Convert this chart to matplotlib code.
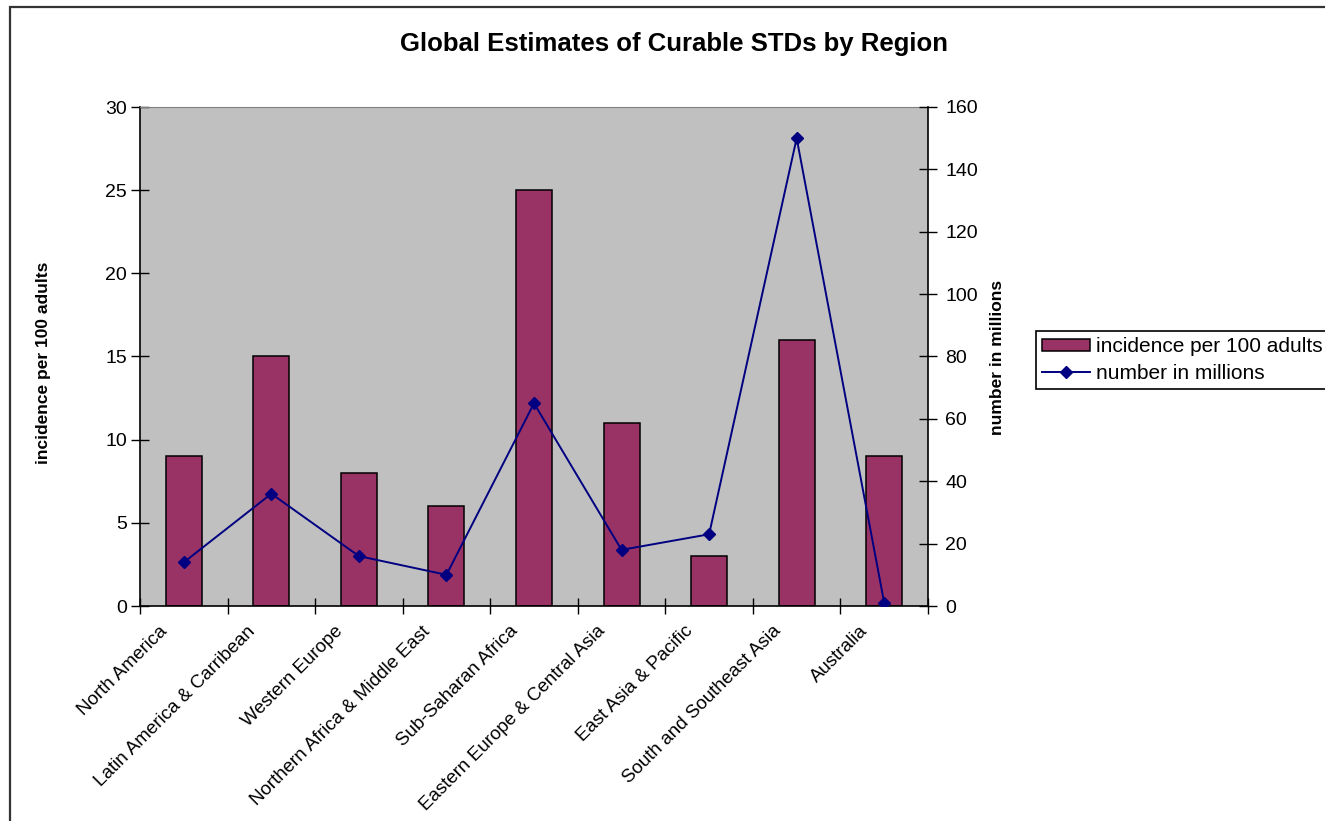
"""
Global estimates of curable STDs by region - bar + line combo chart
"""

import matplotlib
matplotlib.use("Agg")
import matplotlib.pyplot as plt
from matplotlib.patches import Rectangle
from matplotlib.ticker import FixedLocator, MultipleLocator
import numpy as np

regions = ["North America", "Latin America & Carribean", "Western Europe",
           "Northern Africa & Middle East", "Sub-Saharan Africa",
           "Eastern Europe & Central Asia", "East Asia & Pacific",
           "South and Southeast Asia", "Australia"]
incidence = [9, 15, 8, 6, 25, 11, 3, 16, 9]
millions = [14, 36, 16, 10, 65, 18, 23, 150, 1]

plt.rcParams['font.family'] = ['Liberation Sans', 'DejaVu Sans']

fig = plt.figure(figsize=(13.25, 8.21), dpi=100)
ax = fig.add_axes([140 / 1325, 1 - 606 / 821, (928 - 140) / 1325, (606 - 107) / 821])
ax.set_facecolor("#C0C0C0")

x = np.arange(len(regions))
bars = ax.bar(x, incidence, width=0.41, color="#993366", edgecolor="black",
              linewidth=1.1, label="incidence per 100 adults", zorder=2)
ax.set_xlim(-0.5, len(regions) - 0.5)
ax.set_ylim(0, 30)
ax.yaxis.set_major_locator(MultipleLocator(5))

# category labels just left of the centres (invisible major ticks),
# tick marks on the category boundaries
ax.set_xticks(x - 0.28)
ax.set_xticklabels(regions, rotation=45, ha="right", va="top",
                   rotation_mode="anchor", fontsize=13.5)
ax.tick_params(axis="x", which="major", length=0, pad=12)
ax.xaxis.set_minor_locator(FixedLocator(np.arange(-0.5, len(regions), 1.0)))
ax.tick_params(axis="x", which="minor", direction="inout", length=11, width=1)
ax.tick_params(axis="y", direction="inout", length=13, width=1, labelsize=14, pad=3)

for s in ["left", "bottom"]:
    ax.spines[s].set_color("black")
    ax.spines[s].set_linewidth(1.2)
ax.spines["top"].set_color("#808080")
ax.spines["right"].set_visible(False)

ax2 = ax.twinx()
line, = ax2.plot(x, millions, color="#000080", lw=1.4, marker="D",
                 markersize=6.5, label="number in millions", zorder=3)
ax2.set_ylim(0, 160)
ax2.yaxis.set_major_locator(MultipleLocator(20))
ax2.tick_params(axis="y", direction="inout", length=13, width=1, labelsize=14, pad=6)
ax2.spines["right"].set_color("black")
ax2.spines["right"].set_linewidth(1.2)
for s in ["top", "left", "bottom"]:
    ax2.spines[s].set_visible(False)

# axis titles and chart title
fig.text(44 / 1325, 1 - 363 / 821, "incidence per 100 adults", rotation=90,
         ha="center", va="center", fontsize=12.5, fontweight="bold")
fig.text(997 / 1325, 1 - 357 / 821, "number in millions", rotation=90,
         ha="center", va="center", fontsize=12.5, fontweight="bold")
fig.text(674 / 1325, 1 - 44 / 821, "Global Estimates of Curable STDs by Region",
         ha="center", va="center", fontsize=18.5, fontweight="bold")

leg = fig.legend(handles=[bars, line], loc="upper left",
                 bbox_to_anchor=(1036 / 1325, 1 - 331 / 821),
                 fontsize=15, frameon=True, fancybox=False, framealpha=1,
                 edgecolor="black", borderpad=0.3, labelspacing=0.35,
                 handlelength=2.3, handleheight=0.5, handletextpad=0.3,
                 borderaxespad=0)
leg.get_frame().set_linewidth(1.2)

# outer chart border
fig.patches.append(Rectangle((10 / 1325, -0.1), 1.2, 1.1 - 7 / 821,
                             transform=fig.transFigure, fill=False,
                             edgecolor="#333333", linewidth=1.6))

fig.savefig("out.png", dpi=100)
